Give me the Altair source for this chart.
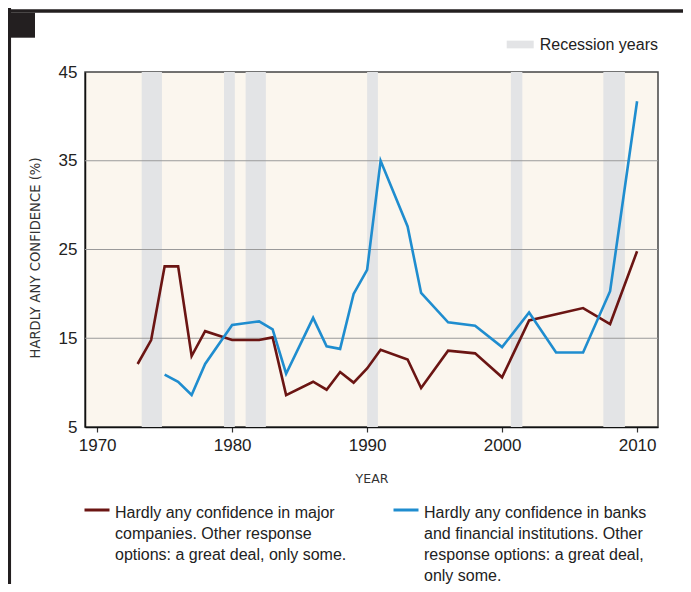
import altair as alt
import pandas as pd

# ---- data ----
years_companies = [1973, 1974, 1975, 1976, 1977, 1978, 1980, 1982, 1983, 1984, 1986, 1987, 1988,
                   1989, 1990, 1991, 1993, 1994, 1996, 1998, 2000, 2002, 2004, 2006, 2008, 2010]
companies = [12.1, 14.8, 23.1, 23.1, 13.0, 15.8, 14.8, 14.8, 15.1, 8.6, 10.1, 9.2, 11.2,
             10.0, 11.6, 13.7, 12.6, 9.4, 13.6, 13.3, 10.6, 17.0, 17.7, 18.4, 16.6, 24.8]

years_banks = [1975, 1976, 1977, 1978, 1980, 1982, 1983, 1984, 1986, 1987, 1988, 1989,
               1990, 1991, 1993, 1994, 1996, 1998, 2000, 2002, 2004, 2006, 2008, 2010]
banks = [10.9, 10.1, 8.6, 12.1, 16.5, 16.9, 16.0, 11.0, 17.3, 14.1, 13.8, 20.0,
         22.7, 35.0, 27.6, 20.1, 16.8, 16.4, 14.0, 17.9, 13.4, 13.4, 20.3, 41.7]

recession_start = [1973.3, 1979.4, 1981.0, 1990.0, 2000.65, 2007.5]
recession_end = [1974.8, 1980.2, 1982.5, 1990.8, 2001.5, 2009.1]

series_names = [
    "Hardly any confidence in major|companies. Other response|options: a great deal, only some.| ",
    "Hardly any confidence in banks|and financial institutions. Other|response options: a great deal,|only some.",
]
series_colors = ["#6b1513", "#1f8dcf"]

x_ticks = [1970, 1980, 1990, 2000, 2010]
y_ticks = [5, 15, 25, 35, 45]
grid_values = [15, 25, 35]

# ---- tables ----
lines_df = pd.concat([
    pd.DataFrame({"year": years_companies, "value": companies, "series": series_names[0]}),
    pd.DataFrame({"year": years_banks, "value": banks, "series": series_names[1]}),
], ignore_index=True)
bands_df = pd.DataFrame({"start": recession_start, "end": recession_end, "kind": "Recession years"})
grid_df = pd.DataFrame({"v": grid_values})

W, H = 573, 355
xscale = alt.Scale(domain=[1969.1, 2011.55], nice=False, zero=False)
yscale = alt.Scale(domain=[5, 45], nice=False, zero=False)

x_axis = alt.Axis(values=x_ticks, format="d", title="YEAR", grid=False,
                  labelFontSize=17, labelColor="#222", labelPadding=5.5,
                  tickSize=5, tickColor="#333", tickWidth=1.2,
                  domainColor="#111", domainWidth=1.5,
                  titleFont="DejaVu Sans", titleFontSize=12.5, titleFontWeight="normal",
                  titleColor="#333", titleY=45, titleBaseline="top")
y_axis = alt.Axis(values=y_ticks, title="HARDLY ANY CONFIDENCE (%)", grid=False,
                  labelFontSize=17, labelColor="#222", labelPadding=8, tickSize=0,
                  domainColor="#111", domainWidth=1.5,
                  titleFont="DejaVu Sans", titleFontSize=13.2, titleFontWeight="normal",
                  titleColor="#333", titleX=-49.7, titleY=185.5, titleAngle=270,
                  titleAlign="center", titleBaseline="middle")

bands = alt.Chart(bands_df).mark_rect().encode(
    x=alt.X("start:Q", scale=xscale, axis=x_axis, title="YEAR"),
    x2="end:Q",
    fill=alt.Fill("kind:N", scale=alt.Scale(range=["#e3e4e6"]),
                  legend=alt.Legend(orient="none", legendX=421.7, legendY=-41, title=None,
                                    padding=0, symbolType="M-1,-0.285H1V0.285H-1Z",
                                    symbolSize=729, symbolStrokeWidth=0, labelFontSize=16,
                                    labelOffset=6, labelColor="#222", labelLimit=300)),
)

grid = alt.Chart(grid_df).mark_rule(color="#9a9a9a", strokeWidth=1.2).encode(
    y=alt.Y("v:Q", scale=yscale, axis=y_axis, title="HARDLY ANY CONFIDENCE (%)"),
)

lines = alt.Chart(lines_df).mark_line(strokeWidth=2.6).encode(
    x=alt.X("year:Q", scale=xscale, axis=x_axis, title="YEAR"),
    y=alt.Y("value:Q", scale=yscale, axis=y_axis, title="HARDLY ANY CONFIDENCE (%)"),
    color=alt.Color("series:N", scale=alt.Scale(domain=series_names, range=series_colors),
                    legend=alt.Legend(orient="none", legendX=-2, legendY=432, title=None,
                                      columns=2, columnPadding=40, padding=0,
                                      labelExpr="split(datum.label, '|')", labelLimit=400,
                                      symbolType="M-1,-0.64H1", symbolSize=625,
                                      symbolStrokeWidth=3, labelFontSize=16, labelOffset=4,
                                      labelBaseline="alphabetic", labelColor="#222")),
)

one = alt.Data(values=[{"k": 1}])
frame_color = "#231f20"
left_bar = alt.Chart(one).mark_rule(color=frame_color, strokeWidth=3.7).encode(
    x=alt.value(-75.8), y=alt.value(-64), y2=alt.value(512))
top_bar = alt.Chart(one).mark_rule(color=frame_color, strokeWidth=3.4).encode(
    x=alt.value(-78), x2=alt.value(598), y=alt.value(-61))
corner = alt.Chart(one).mark_rect(color=frame_color).encode(
    x=alt.value(-74), x2=alt.value(-50), y=alt.value(-59.3), y2=alt.value(-34.3))

chart = alt.layer(bands, grid, lines, left_bar, top_bar, corner).resolve_scale(
    color="independent", fill="independent"
).properties(
    width=W, height=H,
    autosize=alt.AutoSizeParams(type="none"),
    padding={"left": 77, "top": 64, "right": 25, "bottom": 157},
).configure(
    font="Liberation Sans",
    background="white",
    style={"guide-label": {"lineHeight": 21}},
).configure_view(
    fill="#fbf6ee", stroke="#444", strokeWidth=1.5,
)

chart.save("out.html", embed_options={"renderer": "svg", "actions": False})
